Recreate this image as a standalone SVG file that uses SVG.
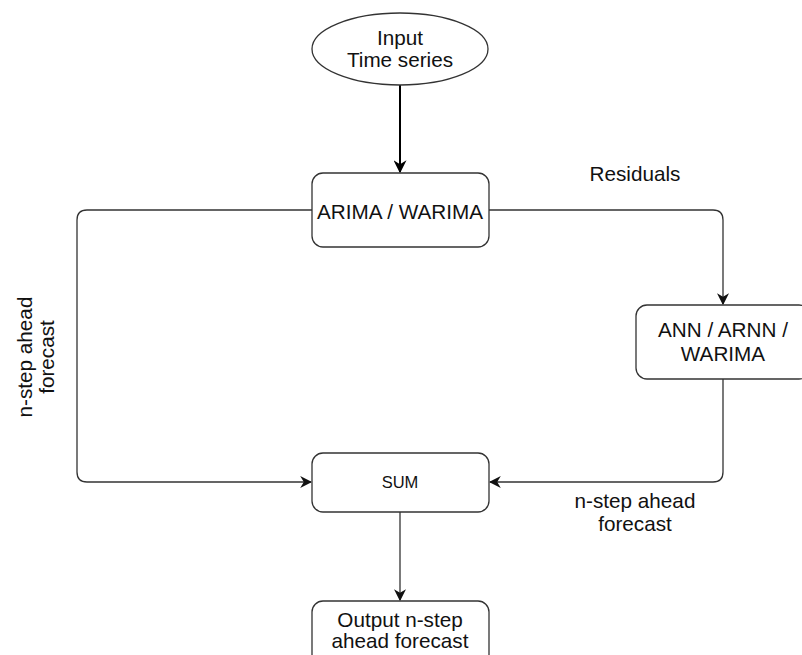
<svg xmlns="http://www.w3.org/2000/svg" width="802" height="655" viewBox="0 0 802 655">
<style>
.box{fill:#fff;stroke:#333;stroke-width:1.3}
.t{font-family:"Liberation Sans",Arial,sans-serif;font-size:20.7px;fill:#111;text-anchor:middle}
.c{fill:none;stroke:#333;stroke-width:1.3}
</style>
<defs>
<marker id="ah" viewBox="0 0 10 10" refX="9" refY="5" markerWidth="12" markerHeight="12" markerUnits="userSpaceOnUse" orient="auto">
<path d="M0,0 L10,5 L0,10 L3,5 Z" fill="#111"/>
</marker>
<marker id="ah2" viewBox="0 0 10 10" refX="9" refY="5" markerWidth="13" markerHeight="13" markerUnits="userSpaceOnUse" orient="auto">
<path d="M0,0 L10,5 L0,10 L3,5 Z" fill="#000"/>
</marker>
</defs>
<g id="connectors">
<path class="c" d="M400,85 L400,172" style="stroke:#000;stroke-width:2" marker-end="url(#ah2)"/>
<path class="c" d="M489,210 L713,210 Q723,210 723,220 L723,304" marker-end="url(#ah)"/>
<path class="c" d="M723,379 L723,472 Q723,482 713,482 L490,482" marker-end="url(#ah)"/>
<path class="c" d="M312,210 L87,210 Q77,210 77,220 L77,472 Q77,482 87,482 L311,482" marker-end="url(#ah)"/>
<path class="c" d="M400,512 L400,600" marker-end="url(#ah)"/>
</g>
<g id="input">
<ellipse class="box" cx="400" cy="49" rx="88" ry="36"/>
<text class="t" x="400" y="45">Input</text>
<text class="t" x="400" y="67">Time series</text>
</g>
<g id="arima">
<rect class="box" x="312" y="173" width="177" height="74" rx="11"/>
<text class="t" x="400" y="219">ARIMA / WARIMA</text>
</g>
<g id="ann">
<rect class="box" x="636" y="305" width="174" height="74" rx="11"/>
<text class="t" x="723" y="337">ANN / ARNN /</text>
<text class="t" x="723" y="361">WARIMA</text>
</g>
<g id="sum">
<rect class="box" x="312" y="453" width="177" height="59" rx="11"/>
<text class="t" x="400" y="488" style="font-size:16.5px">SUM</text>
</g>
<g id="output">
<rect class="box" x="312" y="601" width="177" height="70" rx="11"/>
<text class="t" x="400" y="627">Output n-step</text>
<text class="t" x="400" y="648">ahead forecast</text>
</g>
<g id="labels">
<text class="t" x="635" y="181">Residuals</text>
<text class="t" x="635" y="508">n-step ahead</text>
<text class="t" x="635" y="531">forecast</text>
<text class="t" transform="translate(32,357) rotate(-90)">n-step ahead</text>
<text class="t" transform="translate(54,357) rotate(-90)">forecast</text>
</g>
</svg>
